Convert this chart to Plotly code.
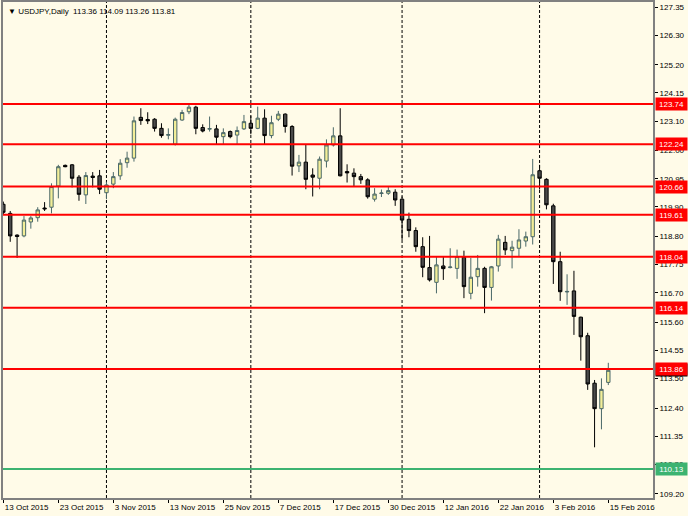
import pandas as pd
import plotly.graph_objects as go

symbol = "USDJPY,Daily"

holidays = ["2015-12-25", "2016-01-01"]
dates = [d.strftime("%Y-%m-%d") for d in pd.bdate_range("2015-10-12", "2016-02-15")
         if d.strftime("%Y-%m-%d") not in holidays]

opens = [120.00, 119.66, 118.85, 118.82, 119.34, 119.50, 119.86, 119.89, 120.68, 121.45,
         121.47, 121.01, 120.35, 121.05, 121.06, 120.43, 120.75, 121.06, 121.55, 121.72,
         123.24, 123.16, 123.17, 122.83, 122.57, 122.24, 123.14, 123.45, 123.62, 122.86,
         122.80, 122.81, 122.52, 122.71, 122.58, 122.81, 123.02, 122.83, 123.21, 122.56,
         123.17, 123.36, 122.90, 121.43, 121.57, 121.09, 120.97, 121.61, 122.21, 122.55,
         121.22, 121.16, 121.03, 120.91, 120.19, 120.40, 120.41, 120.45, 120.19, 119.44,
         119.02, 118.42, 117.64, 117.09, 117.70, 117.64, 117.61, 118.03, 116.68, 117.30,
         117.61, 116.90, 117.70, 118.58, 118.27, 118.36, 118.63, 118.79, 121.25, 120.93,
         119.94, 117.86, 116.73, 116.77, 115.79, 115.10, 113.33, 112.38, 113.36]
highs = [120.10, 119.75, 118.88, 119.56, 119.56, 119.89, 120.08, 120.78, 121.47, 121.48,
         121.50, 121.09, 121.20, 121.20, 121.28, 120.84, 121.20, 121.68, 121.96, 123.27,
         123.58, 123.43, 123.21, 123.02, 122.83, 123.23, 123.52, 123.73, 123.67, 122.98,
         123.27, 122.96, 122.83, 122.75, 122.90, 123.33, 123.30, 123.64, 123.54, 123.30,
         123.48, 123.39, 122.95, 121.84, 122.21, 121.34, 121.78, 122.42, 122.87, 123.58,
         121.49, 121.34, 121.13, 120.97, 120.60, 120.55, 120.64, 120.56, 120.29, 119.69,
         119.14, 118.77, 118.82, 118.07, 118.04, 118.36, 118.31, 118.27, 118.00, 118.11,
         117.67, 117.70, 118.86, 118.82, 118.64, 119.07, 118.98, 121.69, 121.47, 120.97,
         120.02, 118.23, 117.39, 117.52, 115.81, 115.21, 113.45, 113.51, 114.09]
lows = [119.60, 118.60, 118.00, 118.77, 119.09, 119.35, 119.75, 119.66, 120.22, 121.38,
        120.63, 120.13, 120.01, 120.63, 120.38, 120.19, 120.60, 120.91, 121.36, 121.59,
        122.96, 122.99, 122.71, 122.48, 122.42, 122.19, 123.11, 123.36, 122.61, 122.68,
        122.71, 122.24, 122.24, 122.46, 122.24, 122.77, 122.61, 122.80, 122.24, 122.46,
        123.10, 122.67, 121.07, 121.20, 120.56, 120.29, 120.56, 121.37, 122.15, 121.04,
        120.81, 120.68, 120.76, 120.21, 120.10, 120.27, 120.35, 119.94, 118.67, 118.77,
        118.23, 117.28, 117.12, 116.68, 117.18, 117.61, 117.22, 116.50, 116.46, 116.93,
        115.94, 116.41, 117.49, 118.11, 117.61, 118.05, 118.42, 118.50, 120.55, 119.81,
        117.03, 116.40, 116.25, 115.13, 114.17, 113.08, 110.94, 111.61, 113.26]
closes = [119.70, 118.82, 118.80, 119.41, 119.49, 119.79, 119.83, 120.66, 121.40, 121.40,
          120.97, 120.37, 121.07, 121.00, 120.56, 120.72, 121.03, 121.53, 121.72, 123.11,
          123.12, 123.11, 122.83, 122.56, 122.60, 123.17, 123.42, 123.62, 122.83, 122.73,
          122.82, 122.50, 122.67, 122.52, 122.75, 123.08, 122.83, 123.21, 122.56, 123.04,
          123.36, 122.90, 121.42, 121.57, 120.93, 121.01, 121.68, 122.21, 122.55, 121.06,
          121.17, 121.03, 120.91, 120.28, 120.38, 120.42, 120.51, 120.16, 119.41, 119.02,
          118.42, 117.65, 117.18, 117.74, 117.60, 117.66, 118.05, 116.93, 117.28, 117.61,
          116.90, 117.67, 118.70, 118.30, 118.40, 118.67, 118.79, 121.10, 120.97, 119.98,
          117.86, 116.74, 116.75, 115.82, 115.06, 113.30, 112.38, 113.10, 113.81]

resistance_levels = [123.74, 122.24, 120.66, 119.61, 118.04, 116.14, 113.86]
support_level = 110.13
price_ticks = [127.35, 126.30, 125.20, 124.15, 123.10, 122.00, 120.95, 119.90, 118.80,
               117.75, 116.70, 115.60, 114.55, 113.50, 112.40, 111.35, 110.30, 109.20]
date_labels = ["13 Oct 2015", "23 Oct 2015", "3 Nov 2015", "13 Nov 2015", "25 Nov 2015",
               "7 Dec 2015", "17 Dec 2015", "30 Dec 2015", "12 Jan 2016", "22 Jan 2016",
               "3 Feb 2016", "15 Feb 2016"]
label_step = 8

BG = "#FFFBE8"
FONT = "Liberation Sans, Arial, sans-serif"

n = len(dates)
xs = list(range(n))

fig = go.Figure()
fig.add_trace(go.Candlestick(
    x=xs, open=opens, high=highs, low=lows, close=closes,
    increasing=dict(line=dict(color="#4A6868", width=1), fillcolor="#F3EE98"),
    decreasing=dict(line=dict(color="#000000", width=1), fillcolor="#4A4A4A"),
    whiskerwidth=0, hovertext=dates, hoverinfo="text",
))

shapes = []
# monthly period separators (first bar of each month)
for i in range(1, n):
    if dates[i][5:7] != dates[i - 1][5:7]:
        shapes.append(dict(type="line", xref="x", yref="paper", x0=i, x1=i, y0=0, y1=1,
                           line=dict(color="black", width=1, dash="3px,2px"), layer="below"))
for lv in resistance_levels:
    shapes.append(dict(type="line", xref="paper", yref="y", x0=0, x1=1, y0=lv, y1=lv,
                       line=dict(color="#FF0000", width=2)))
shapes.append(dict(type="line", xref="paper", yref="y", x0=0, x1=1,
                   y0=support_level, y1=support_level,
                   line=dict(color="#3CB371", width=2)))

annotations = []
# current price box (mostly hidden under the level box)
annotations.append(dict(xref="paper", yref="y", x=1, y=closes[-1], xanchor="left", xshift=2,
                        text=f"{closes[-1]:.2f}", showarrow=False, bgcolor="black",
                        font=dict(color="white", size=8, family=FONT),
                        width=29, height=10, borderpad=1))
annotations.append(dict(xref="paper", yref="y", x=1, y=support_level, xanchor="left", xshift=2,
                        text=f"{support_level:.2f}", showarrow=False, bgcolor="#3CB371",
                        font=dict(color="white", size=8, family=FONT),
                        width=29, height=10, borderpad=1))
for lv in resistance_levels:
    annotations.append(dict(xref="paper", yref="y", x=1, y=lv, xanchor="left", xshift=2,
                            text=f"{lv:.2f}", showarrow=False, bgcolor="#FF0000",
                            font=dict(color="white", size=8, family=FONT),
                            width=29, height=10, borderpad=1))
annotations.append(dict(xref="paper", yref="paper", x=0, y=1, xanchor="left", yanchor="top",
                        xshift=3, yshift=-3, showarrow=False,
                        text=f"▼ {symbol}  {opens[-1]:.2f} {highs[-1]:.2f} {lows[-1]:.2f} {closes[-1]:.2f}",
                        font=dict(color="black", size=8, family=FONT)))

fig.update_layout(
    template="none",
    width=688, height=516,
    margin=dict(l=3, r=35, t=2, b=18, autoexpand=False),
    paper_bgcolor=BG, plot_bgcolor=BG,
    showlegend=False,
    font=dict(family=FONT, size=8, color="black"),
    shapes=shapes, annotations=annotations,
    xaxis=dict(range=[-0.05, 94.5], tickmode="array",
               tickvals=xs[::label_step], ticktext=date_labels,
               ticklabelposition="outside right", ticks="outside", ticklen=3,
               tickcolor="black", showgrid=False, zeroline=False,
               showline=True, mirror=True, linecolor="#808080", linewidth=2,
               rangeslider=dict(visible=False), automargin=False),
    yaxis=dict(side="right", range=[109.05, 127.54], tickmode="array",
               tickvals=price_ticks, ticktext=[f"{v:.2f}" for v in price_ticks],
               ticks="outside", ticklen=3, tickcolor="black",
               showgrid=False, zeroline=False,
               showline=True, mirror=True, linecolor="#808080", linewidth=2,
               automargin=False),
)

fig.write_html("out.html", config={"displayModeBar": False},
               post_script="document.body.style.margin='0';document.body.style.background='" + BG + "';")
